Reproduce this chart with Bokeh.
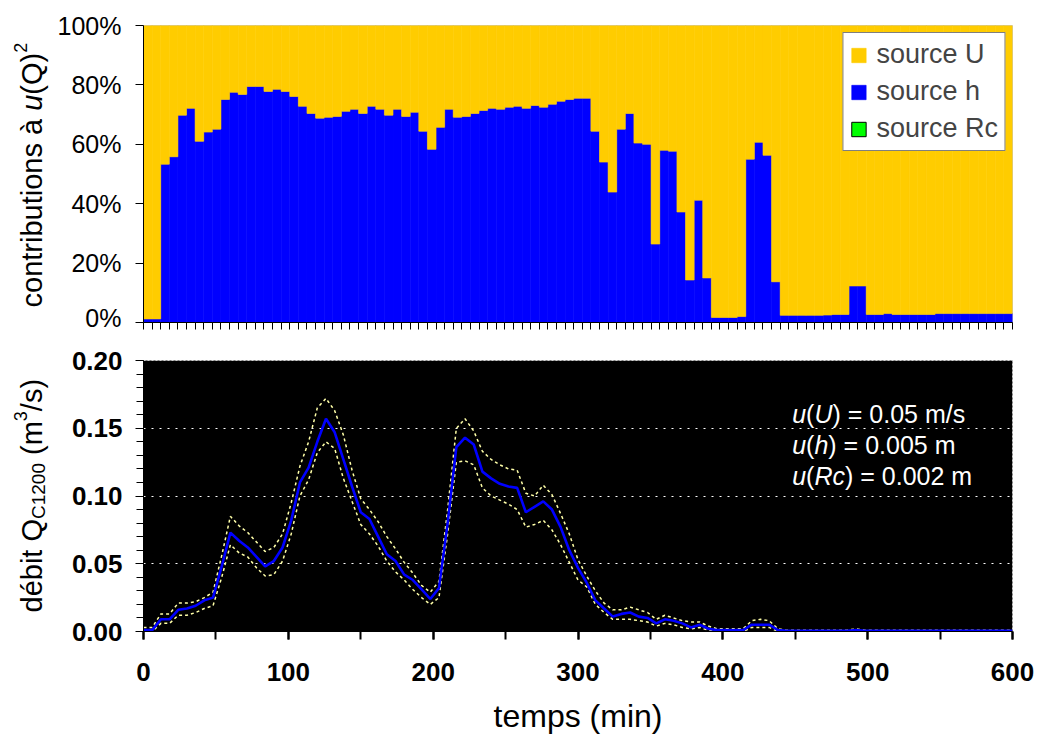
import math
from bokeh.plotting import figure
from bokeh.models import (ColumnDataSource, FixedTicker, SingleIntervalTicker,
                          NumeralTickFormatter, Legend, LegendItem, Label, Range1d)
from bokeh.layouts import column, row
from bokeh.embed import file_html
from bokeh.resources import INLINE

# ---------------- data ----------------
times = list(range(0, 601, 6))  # minutes

# share of u(Q)^2 from source h (%), one bar per time step
h_pct = [1.2, 1.2, 53.3, 55.8, 69.8, 72.1, 61.0, 64.1, 65.1, 75.1,
         77.5, 76.8, 79.5, 79.5, 77.8, 78.5, 77.8, 76.1, 72.8, 70.4,
         68.8, 69.1, 69.4, 71.1, 71.8, 70.4, 72.8, 71.8, 69.8, 71.8,
         69.4, 70.8, 64.4, 58.3, 65.7, 71.8, 69.1, 69.4, 70.4, 71.4,
         72.1, 71.8, 72.5, 72.8, 72.1, 73.1, 72.5, 73.5, 74.5, 75.1,
         75.5, 75.5, 64.4, 54.0, 43.9, 65.1, 70.4, 60.4, 60.0, 26.4,
         58.0, 57.7, 37.2, 14.3, 41.2, 15.0, 1.7, 1.7, 1.7, 2.0,
         55.0, 60.7, 56.3, 13.7, 2.4, 2.4, 2.4, 2.4, 2.4, 2.5,
         2.7, 2.7, 12.3, 12.3, 2.7, 2.7, 3.0, 2.7, 2.7, 2.7,
         2.7, 2.7, 3.0, 3.0, 3.0, 3.0, 3.0, 3.0, 3.0, 3.0,
         3.0]
# share from source Rc (%): negligible everywhere
rc_pct = [0.0, 0.0, 0.0, 0.0, 0.0, 0.0, 0.0, 0.0, 0.0, 0.0,
          0.0, 0.0, 0.0, 0.0, 0.0, 0.0, 0.0, 0.0, 0.0, 0.0,
          0.0, 0.0, 0.0, 0.0, 0.0, 0.0, 0.0, 0.0, 0.0, 0.0,
          0.0, 0.0, 0.0, 0.0, 0.0, 0.0, 0.0, 0.0, 0.0, 0.0,
          0.0, 0.0, 0.0, 0.0, 0.0, 0.0, 0.0, 0.0, 0.0, 0.0,
          0.0, 0.0, 0.0, 0.0, 0.0, 0.0, 0.0, 0.0, 0.0, 0.0,
          0.0, 0.0, 0.0, 0.0, 0.0, 0.0, 0.0, 0.0, 0.0, 0.0,
          0.0, 0.0, 0.0, 0.0, 0.0, 0.0, 0.0, 0.0, 0.0, 0.0,
          0.0, 0.0, 0.0, 0.0, 0.0, 0.0, 0.0, 0.0, 0.0, 0.0,
          0.0, 0.0, 0.0, 0.0, 0.0, 0.0, 0.0, 0.0, 0.0, 0.0,
          0.0]

# discharge Q_C1200 (m3/s) and its uncertainty band
q_mid = [0.001, 0.001, 0.009, 0.009, 0.016, 0.017, 0.019, 0.023, 0.025, 0.048,
         0.073, 0.067, 0.062, 0.055, 0.048, 0.052, 0.062, 0.082, 0.110, 0.121,
         0.140, 0.157, 0.147, 0.127, 0.107, 0.088, 0.083, 0.070, 0.057, 0.052,
         0.042, 0.038, 0.031, 0.024, 0.032, 0.080, 0.136, 0.143, 0.138, 0.118,
         0.113, 0.109, 0.107, 0.106, 0.088, 0.092, 0.096, 0.090, 0.077, 0.060,
         0.047, 0.036, 0.023, 0.017, 0.011, 0.013, 0.014, 0.011, 0.010, 0.006,
         0.009, 0.008, 0.006, 0.003, 0.005, 0.002, 0.001, 0.001, 0.001, 0.001,
         0.005, 0.005, 0.005, 0.001, 0.0005, 0.0005, 0.0005, 0.0005, 0.0005, 0.0005,
         0.0005, 0.0005, 0.001, 0.0005, 0.0005, 0.0005, 0.0005, 0.0005, 0.0005, 0.0005,
         0.0005, 0.0005, 0.0005, 0.0005, 0.0005, 0.0005, 0.0005, 0.0005, 0.0005, 0.0005,
         0.0005]
q_upper = [0.003, 0.003, 0.013, 0.013, 0.021, 0.021, 0.022, 0.025, 0.029, 0.056,
           0.085, 0.078, 0.073, 0.066, 0.059, 0.062, 0.072, 0.095, 0.122, 0.140,
           0.165, 0.172, 0.163, 0.145, 0.119, 0.098, 0.090, 0.081, 0.070, 0.061,
           0.051, 0.043, 0.034, 0.029, 0.037, 0.090, 0.150, 0.157, 0.148, 0.133,
           0.127, 0.123, 0.120, 0.119, 0.102, 0.100, 0.108, 0.101, 0.087, 0.072,
           0.053, 0.041, 0.030, 0.021, 0.016, 0.016, 0.018, 0.016, 0.014, 0.009,
           0.012, 0.010, 0.008, 0.007, 0.007, 0.004, 0.002, 0.002, 0.002, 0.002,
           0.008, 0.009, 0.008, 0.002, 0.001, 0.001, 0.001, 0.001, 0.001, 0.001,
           0.001, 0.001, 0.002, 0.001, 0.001, 0.001, 0.001, 0.001, 0.001, 0.001,
           0.001, 0.001, 0.001, 0.001, 0.001, 0.001, 0.001, 0.001, 0.001, 0.001,
           0.001]
q_lower = [0.000, 0.000, 0.006, 0.006, 0.012, 0.012, 0.014, 0.017, 0.019, 0.040,
           0.064, 0.058, 0.055, 0.047, 0.041, 0.042, 0.052, 0.072, 0.100, 0.112,
           0.132, 0.140, 0.135, 0.113, 0.096, 0.079, 0.072, 0.063, 0.052, 0.044,
           0.038, 0.031, 0.025, 0.020, 0.025, 0.072, 0.125, 0.126, 0.123, 0.106,
           0.100, 0.097, 0.094, 0.090, 0.077, 0.079, 0.082, 0.075, 0.064, 0.051,
           0.038, 0.033, 0.020, 0.014, 0.009, 0.009, 0.009, 0.008, 0.007, 0.004,
           0.006, 0.005, 0.003, 0.002, 0.003, 0.001, 0.000, 0.000, 0.000, 0.000,
           0.003, 0.003, 0.003, 0.000, 0.000, 0.000, 0.000, 0.000, 0.000, 0.000,
           0.000, 0.000, 0.000, 0.000, 0.000, 0.000, 0.000, 0.000, 0.000, 0.000,
           0.000, 0.000, 0.000, 0.000, 0.000, 0.000, 0.000, 0.000, 0.000, 0.000,
           0.000]

pct_ticks = [0, 20, 40, 60, 80, 100]
pct_labels = ["0%", "20%", "40%", "60%", "80%", "100%"]
legend_labels = ["source U", "source h", "source Rc"]
top_ylabel = [("contributions à ", "normal", "main"), ("u", "italic", "main"),
              ("(Q)", "normal", "main"), ("2", "normal", "sup")]
bottom_ylabel = [("débit Q", "normal", "main"), ("C1200", "normal", "sub"),
                 (" (m", "normal", "main"), ("3", "normal", "sup"),
                 ("/s)", "normal", "main")]
note_lines = [
    [("u", "italic"), ("(", "normal"), ("U", "italic"), (") = 0.05 m/s", "normal")],
    [("u", "italic"), ("(", "normal"), ("h", "italic"), (") = 0.005 m", "normal")],
    [("u", "italic"), ("(", "normal"), ("Rc", "italic"), (") = 0.002 m", "normal")],
]

# ---------------- layout constants ----------------
FONT = "Liberation Sans"
C_U, C_H, C_RC = "#FFCC00", "#0000FF", "#00FF00"
LABW = 52                     # strip holding the rotated y titles
W = 1036 - LABW
LEFT = 143 - LABW
FRAME_W = 869
RIGHT = W - LEFT - FRAME_W
H1, TOP1, FRAME_H1 = 331, 25, 297
H2, TOP2, FRAME_H2 = 406, 29, 271

# Arial / Liberation Sans advance widths (per 1000 em)
ADV = {' ': 278, 'a': 556, 'b': 556, 'c': 500, 'd': 556, 'e': 556, 'é': 556, 'à': 556,
       'h': 556, 'i': 222, 'm': 833, 'n': 556, 'o': 556, 'r': 333, 's': 500, 't': 278,
       'u': 556, '(': 333, ')': 333, 'Q': 778, 'C': 722, 'U': 722, 'R': 722, '=': 584,
       '.': 278, '/': 278, '0': 556, '1': 556, '2': 556, '3': 556, '5': 556}
SIZES = {"main": 29, "sub": 19, "sup": 18}
SHIFT = {"main": 0, "sub": 7, "sup": -11}


def text_w(s, size):
    return sum(ADV.get(ch, 556) for ch in s) / 1000.0 * size


def title_strip(height, top, frame_h, y0, y1, pieces, start_px, base_px):
    """narrow figure with the vertical, mixed-style axis title"""
    f = figure(width=LABW, height=height, output_backend="svg", toolbar_location=None,
               x_range=Range1d(0, LABW), y_range=Range1d(y0, y1),
               x_axis_type=None, y_axis_type=None,
               min_border_left=0, min_border_right=0,
               min_border_top=top, min_border_bottom=height - top - frame_h,
               outline_line_color=None, background_fill_color="white",
               border_fill_color="white")
    per_px = (y1 - y0) / frame_h
    yc = y0 + start_px * per_px
    for txt, style, kind in pieces:
        size = SIZES[kind]
        shown = txt.lstrip(" ")
        yc += text_w(txt[:len(txt) - len(shown)], size) * per_px  # leading blanks
        f.add_layout(Label(x=base_px + SHIFT[kind], y=yc, x_units="data", y_units="data",
                           text=shown, angle=math.pi / 2, text_font=FONT,
                           text_font_size=f"{size}px", text_font_style=style,
                           text_color="black", text_align="left",
                           text_baseline="alphabetic"))
        yc += text_w(shown, size) * per_px
    return f


# ---------------- top chart: contributions ----------------
p1 = figure(width=W, height=H1, output_backend="svg", toolbar_location=None,
            x_range=Range1d(-3, 603), y_range=Range1d(0, 100),
            min_border_left=LEFT, min_border_right=RIGHT,
            min_border_top=TOP1, min_border_bottom=H1 - TOP1 - FRAME_H1)
h_top = [r + h for r, h in zip(rc_pct, h_pct)]
src = ColumnDataSource(dict(t=times, zero=[0.0] * len(times), rc=rc_pct,
                            htop=h_top, full=[100.0] * len(times)))
r_rc = p1.vbar(x="t", width=6, bottom="zero", top="rc", source=src,
               fill_color=C_RC, line_color="black", line_width=1)
r_h = p1.vbar(x="t", width=6, bottom="rc", top="htop", source=src,
              fill_color=C_H, line_color=C_H, line_width=0.6)
r_u = p1.vbar(x="t", width=6, bottom="htop", top="full", source=src,
              fill_color=C_U, line_color=C_U, line_width=0.6)

legend = Legend(items=[LegendItem(label=legend_labels[0], renderers=[r_u]),
                       LegendItem(label=legend_labels[1], renderers=[r_h]),
                       LegendItem(label=legend_labels[2], renderers=[r_rc])],
                location="top_right")
legend.label_text_font = FONT
legend.label_text_font_size = "27px"
legend.glyph_width = 18
legend.glyph_height = 18
legend.label_standoff = 9
legend.padding = 6
legend.spacing = 6
legend.margin = 7
legend.border_line_color = "black"
legend.border_line_width = 1
legend.background_fill_color = "white"
legend.background_fill_alpha = 1.0
p1.add_layout(legend)

p1.xgrid.visible = False
p1.ygrid.visible = False
p1.outline_line_color = "#C8C8C8"
p1.background_fill_color = "white"

bar_edges = [-3 + 6 * k for k in range(len(times) + 1)]
p1.xaxis.ticker = FixedTicker(ticks=bar_edges)
p1.xaxis.major_label_overrides = {e: "" for e in bar_edges}
p1.xaxis.major_label_text_font_size = "1px"
p1.xaxis.major_label_standoff = 0
p1.xaxis.major_tick_out = 7
p1.xaxis.major_tick_in = 0
p1.xaxis.minor_tick_line_color = None
p1.xaxis.axis_line_color = "black"
p1.xaxis.major_tick_line_color = "black"

p1.yaxis.ticker = FixedTicker(ticks=pct_ticks)
p1.yaxis.major_label_overrides = dict(zip(pct_ticks, pct_labels))
p1.yaxis.major_label_text_font = FONT
p1.yaxis.major_label_text_font_size = "25px"
p1.yaxis.major_label_text_color = "black"
p1.yaxis.major_tick_out = 8
p1.yaxis.major_tick_in = 0
p1.yaxis.minor_tick_line_color = None
p1.yaxis.major_label_standoff = 14
p1.yaxis.axis_line_color = "black"

t1 = title_strip(H1, TOP1, FRAME_H1, 0, 100, top_ylabel, start_px=322 - 307, base_px=31)

# ---------------- bottom chart: discharge ----------------
p2 = figure(width=W, height=H2, output_backend="svg", toolbar_location=None,
            x_range=Range1d(0, 600), y_range=Range1d(0, 0.2),
            min_border_left=LEFT, min_border_right=RIGHT,
            min_border_top=TOP2, min_border_bottom=H2 - TOP2 - FRAME_H2,
            background_fill_color="black", border_fill_color="white")
p2.line(times, q_upper, line_color="#FFFFA8", line_width=1.5, line_dash="3 3")
p2.line(times, q_lower, line_color="#FFFFA8", line_width=1.5, line_dash="3 3")
p2.line(times, q_mid, line_color="#0000FF", line_width=2.6)

p2.xgrid.visible = False
p2.ygrid.ticker = FixedTicker(ticks=[0.05, 0.10, 0.15])
p2.ygrid.grid_line_color = "white"
p2.ygrid.grid_line_dash = "2 6"
p2.ygrid.grid_line_width = 1
p2.outline_line_color = "#D0D0D0"
p2.outline_line_dash = "2 2"
p2.outline_line_width = 1

p2.xaxis.ticker = SingleIntervalTicker(interval=100, num_minor_ticks=2)
p2.xaxis.major_tick_out = 8
p2.xaxis.major_tick_in = 0
p2.xaxis.minor_tick_out = 8
p2.xaxis.minor_tick_in = 0
p2.xaxis.major_tick_line_width = 2
p2.xaxis.minor_tick_line_width = 2
p2.xaxis.major_label_text_font = FONT
p2.xaxis.major_label_text_font_size = "26px"
p2.xaxis.major_label_text_font_style = "bold"
p2.xaxis.major_label_text_color = "black"
p2.xaxis.major_label_standoff = 23
p2.xaxis.axis_label = "temps (min)"
p2.xaxis.axis_label_text_font = FONT
p2.xaxis.axis_label_text_font_size = "32px"
p2.xaxis.axis_label_text_font_style = "normal"
p2.xaxis.axis_label_text_color = "black"
p2.xaxis.axis_label_standoff = 14
p2.xaxis.axis_line_color = "black"

p2.yaxis.ticker = SingleIntervalTicker(interval=0.05, num_minor_ticks=5)
p2.yaxis.formatter = NumeralTickFormatter(format="0.00")
p2.yaxis.major_tick_out = 8
p2.yaxis.major_tick_in = 0
p2.yaxis.minor_tick_out = 7
p2.yaxis.minor_tick_in = 0
p2.yaxis.major_label_text_font = FONT
p2.yaxis.major_label_text_font_size = "26px"
p2.yaxis.major_label_text_font_style = "bold"
p2.yaxis.major_label_text_color = "black"
p2.yaxis.major_label_standoff = 13
p2.yaxis.axis_line_color = "black"

t2 = title_strip(H2, TOP2, FRAME_H2, 0, 0.2, bottom_ylabel, start_px=631 - 612, base_px=31)

# annotation with the standard uncertainties
x_per_px2 = 600.0 / FRAME_W
y_per_px2 = 0.2 / FRAME_H2
note_x0 = (791.7 - 143) * x_per_px2
note_baselines = [(631 - 413) * y_per_px2, (631 - 444) * y_per_px2, (631 - 475) * y_per_px2]
for pieces, yb in zip(note_lines, note_baselines):
    xc = note_x0
    for txt, style in pieces:
        p2.add_layout(Label(x=xc, y=yb, x_units="data", y_units="data", text=txt,
                            text_font=FONT, text_font_size="25px",
                            text_font_style=style, text_color="white",
                            text_align="left", text_baseline="alphabetic"))
        xc += text_w(txt, 25) * x_per_px2

layout = column(row(t1, p1), row(t2, p2))
open("out.html", "w").write(file_html(layout, INLINE))
